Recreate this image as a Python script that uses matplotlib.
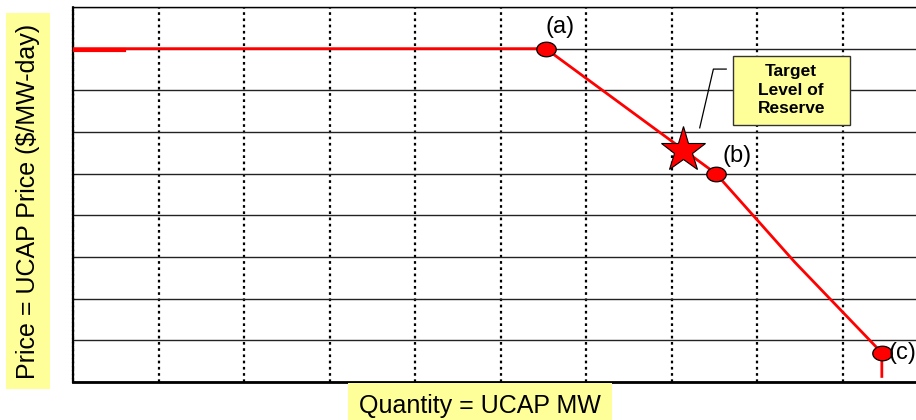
import matplotlib
matplotlib.use("Agg")
import matplotlib.pyplot as plt
import matplotlib.patches as mpatches
from matplotlib.path import Path
import numpy as np

plt.rcParams["font.family"] = ["Liberation Sans", "DejaVu Sans"]

# demand curve (grid units: 10 columns x 9 rows)
qty = [0.0, 5.53, 7.52, 8.44, 9.46, 9.46]
price = [8.0, 8.0, 5.0, 2.88, 0.7, 0.1]
# labelled break points
pt_qty = [5.53, 7.52, 9.46]
pt_price = [8.0, 5.0, 0.7]
pt_lab = ["(a)", "(b)", "(c)"]
# target level of reserve
star_qty, star_price = 7.13, 5.57

YELLOW = "#ffff99"
RED = "#ff0000"

fig = plt.figure(figsize=(9.16, 4.2), dpi=100)
ax = fig.add_axes([73 / 916, 38 / 420, 855 / 916, 375 / 420])
ax.set_xlim(0, 10)
ax.set_ylim(0, 9)
ax.set_xticks(range(11))
ax.set_yticks(range(10))
ax.tick_params(length=0, labelbottom=False, labelleft=False)
ax.grid(axis="y", color="#222222", lw=1.0)
ax.grid(axis="x", color="black", lw=1.6, ls=(0, (1.2, 1.6)))
for s in ["top", "right"]:
    ax.spines[s].set_linewidth(1.0)
ax.spines["bottom"].set_linewidth(2.0)
ax.spines["left"].set_linewidth(1.6)
ax.spines["left"].set_linestyle((0, (1.2, 0.6)))

ax.plot(qty, price, color=RED, lw=2.0, zorder=3, solid_capstyle="butt")
ax.plot([0, 0.6], [price[0] - 0.02, price[0] - 0.02], color=RED, lw=3.0, zorder=3)

# ellipse-shaped markers
th = np.linspace(0, 2 * np.pi, 60)
ell = Path(np.column_stack([np.cos(th), 0.75 * np.sin(th)]), closed=True)
ax.plot(pt_qty, pt_price, ls="", marker=ell, ms=14, mfc=RED, mec="black",
        mew=0.9, zorder=4)

offs = [(0.17, 0.52), (0.25, 0.42), (0.24, 0.0)]
for x, y, t, (dx, dy) in zip(pt_qty, pt_price, pt_lab, offs):
    ax.text(x + dx, y + dy, t, fontsize=17, ha="center", va="center", zorder=5,
            clip_on=False)

ax.plot([star_qty], [star_price], ls="", marker="*", ms=34, mfc=RED,
        mec="black", mew=0.8, zorder=5)

# callout box
ax.plot([7.33, 7.49, 7.64], [6.1, 7.51, 7.51], color="black", lw=0.9, zorder=5)
ax.add_patch(mpatches.Rectangle((7.72, 6.17), 1.37, 1.65, fc=YELLOW,
                                ec="#333333", lw=1.0, zorder=6))
ax.text(8.40, 7.0, "Target\nLevel of\nReserve", fontsize=12.5, fontweight="bold",
        ha="center", va="center", linespacing=1.3, zorder=7)

fig.text(28 / 916, 1 - 201 / 420, "Price = UCAP Price ($/MW-day)", rotation=90,
         fontsize=18, ha="center", va="center",
         bbox=dict(boxstyle="square,pad=0.4", fc=YELLOW, ec="none"))
fig.text(480 / 916, 1 - 406 / 420, "Quantity = UCAP MW", fontsize=18,
         ha="center", va="center",
         bbox=dict(boxstyle="square,pad=0.45", fc=YELLOW, ec="none"))

fig.savefig("out.png", dpi=100)
